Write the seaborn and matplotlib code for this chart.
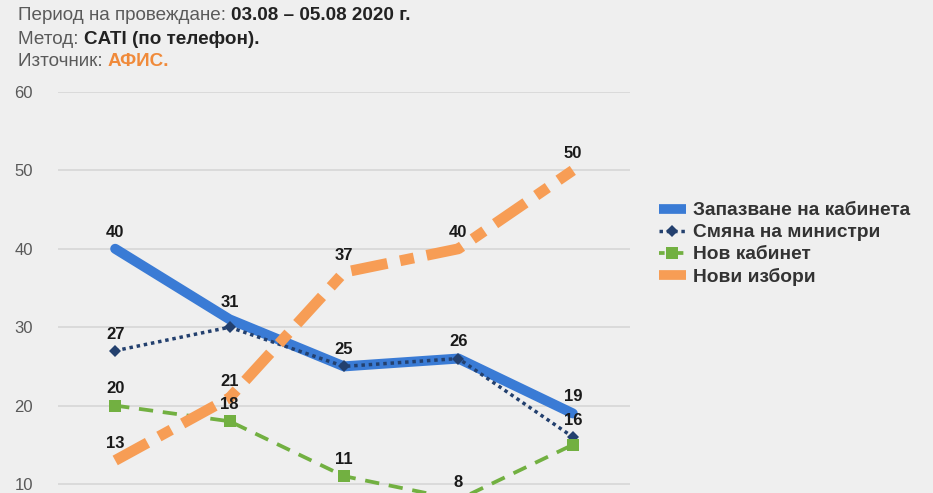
import matplotlib
matplotlib.use("Agg")
import matplotlib.pyplot as plt
import seaborn as sns
import pandas as pd
from matplotlib.lines import Line2D

# ---- data ----
categories = ["1", "2", "3", "4", "5"]
series_names = ["Запазване на кабинета", "Смяна на министри", "Нов кабинет", "Нови избори"]
keep_cabinet = [40, 31, 25, 26, 19]
change_ministers = [27, 30, 25, 26, 16]
new_cabinet = [20, 18, 11, 8, 15]
new_elections = [13, 21, 37, 40, 50]
# which points carry a visible value label
keep_labels = [True, True, True, True, True]
change_labels = [True, False, False, False, True]
newcab_labels = [True, True, True, True, False]
elect_labels = [True, True, True, True, True]
y_ticks = [10, 20, 30, 40, 50, 60]

sns.set_theme(style="white")
plt.rcParams["font.family"] = ["Liberation Sans", "DejaVu Sans"]

BG = "#efefef"
fig = plt.figure(figsize=(9.33, 4.93), dpi=100, facecolor=BG)
ax = fig.add_axes([58 / 933, 0.0, (630 - 58) / 933, (493 - 92) / 493])
ax.set_facecolor(BG)

x = list(range(len(categories)))
frames = []
for name, vals in zip(series_names, [keep_cabinet, change_ministers, new_cabinet, new_elections]):
    frames.append(pd.DataFrame({"x": x, "value": vals, "series": name}))
df = pd.concat(frames, ignore_index=True)

styles = {
    "Запазване на кабинета": dict(color="#3a7bd5", lw=7.2, ls="-", marker=None,
                                   solid_capstyle="round", solid_joinstyle="round", zorder=3),
    "Смяна на министри": dict(color="#23406e", lw=2.5, ls=(0, (1, 1.1)), marker="D",
                               markersize=6.5, dash_capstyle="butt", zorder=4),
    "Нов кабинет": dict(color="#72b041", lw=2.7, ls=(0, (3.8, 2.6)), marker="s",
                         markersize=8.5, dash_capstyle="butt", zorder=5),
    "Нови избори": dict(color="#f79d55", lw=7.8, ls=(0, (3.4, 1.2, 1.3, 1.2)), marker=None,
                         dash_capstyle="butt", zorder=6),
}

for name in series_names:
    st = dict(styles[name])
    z = st.pop("zorder")
    sub = df[df["series"] == name]
    sns.lineplot(data=sub, x="x", y="value", ax=ax, legend=False, sort=False,
                 color=st.pop("color"), linewidth=st.pop("lw"), linestyle=st.pop("ls"),
                 marker=st.pop("marker"), markeredgewidth=0, zorder=z, **st)

for vals, flags in [(keep_cabinet, keep_labels), (change_ministers, change_labels),
                    (new_cabinet, newcab_labels), (new_elections, elect_labels)]:
    for xi, v, f in zip(x, vals, flags):
        if f:
            ax.annotate(str(v), (xi, v), xytext=(0, 12), textcoords="offset points",
                        ha="center", va="center", fontsize=12, fontweight="bold",
                        color="#1a1a1a", zorder=10, annotation_clip=False)

ax.set_xlim(-0.5, 4.5)
ax.set_ylim(8.85, 60)
ax.set_yticks(y_ticks)
ax.set_xticks([])
ax.set_xlabel("")
ax.set_ylabel("")
ax.grid(axis="y", color="#d6d6d6", linewidth=1.2)
ax.set_axisbelow(True)
for s in ax.spines.values():
    s.set_visible(False)
ax.tick_params(axis="y", length=0, pad=18, labelsize=12, labelcolor="#595959")

# legend
handles = [
    Line2D([], [], color="#3a7bd5", lw=7, solid_capstyle="butt"),
    Line2D([], [], color="#23406e", lw=2.5, ls=(0, (1, 1.1)), marker="D", markersize=6.5,
           markeredgewidth=0),
    Line2D([], [], color="#72b041", lw=2.7, ls=(0, (1.5, 1)), marker="s", markersize=8.5,
           markeredgewidth=0),
    Line2D([], [], color="#f79d55", lw=7, solid_capstyle="butt"),
]
leg = fig.legend(handles, series_names, loc="upper left",
                 bbox_to_anchor=(659 / 933, 1 - 202 / 493), frameon=False,
                 prop={"size": 13.8, "weight": "bold"}, handlelength=1.4,
                 handletextpad=0.35, labelspacing=0.24, borderaxespad=0, borderpad=0)
for t in leg.get_texts():
    t.set_color("#333333")

# header text
gray = "#5a5a5a"
def header(y, parts):
    xpos = 18
    r = fig.canvas.get_renderer()
    for txt, col, w in parts:
        t = fig.text(xpos / 933, 1 - y / 493, txt, fontsize=13.6, color=col, fontweight=w,
                     va="center", ha="left")
        bb = t.get_window_extent(renderer=r)
        xpos += bb.width

header(16, [("Период на провеждане: ", gray, "normal"), ("03.08 – 05.08 2020 г.", "#222222", "bold")])
header(39, [("Метод: ", gray, "normal"), ("CATI (по телефон).", "#222222", "bold")])
header(62, [("Източник: ", gray, "normal"), ("АФИС.", "#f08a3a", "bold")])

fig.savefig("out.png", dpi=100, facecolor=BG)
